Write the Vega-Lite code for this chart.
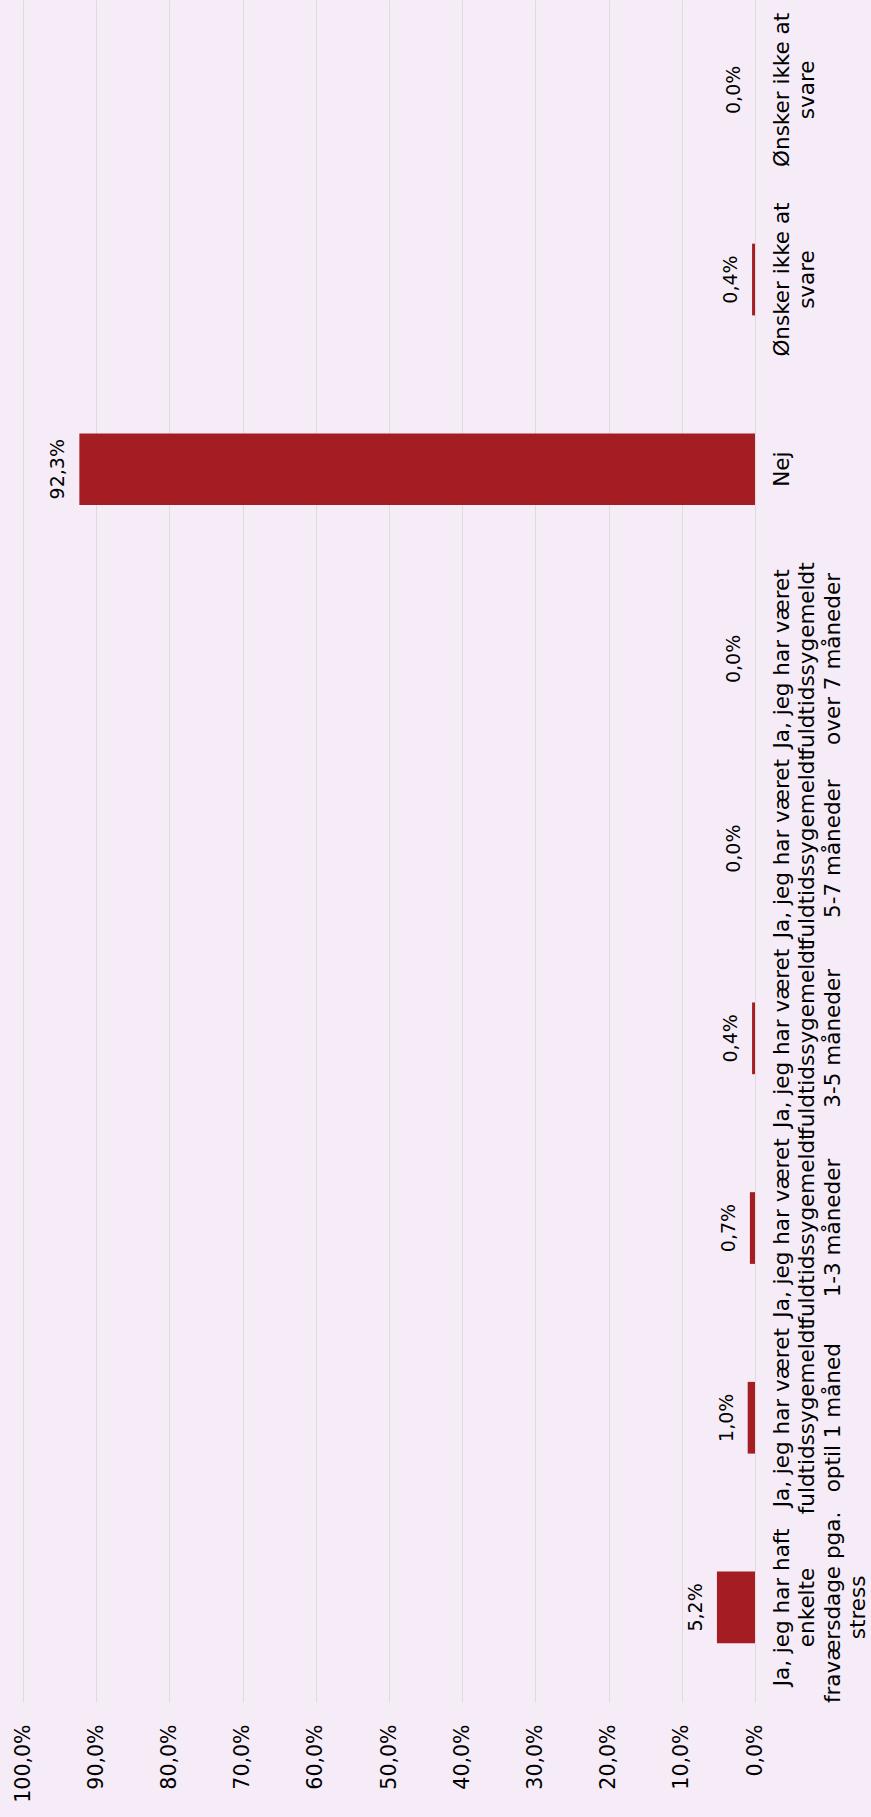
{
  "$schema": "https://vega.github.io/schema/vega-lite/v6.json",
  "width": 732,
  "height": 1702,
  "autosize": {"type": "none"},
  "padding": {"left": 23, "top": 0, "right": 116, "bottom": 115},
  "background": "#F5ECF7",
  "config": {
    "view": {"stroke": null},
    "font": "DejaVu Sans",
    "locale": {"number": {"decimal": ",", "thousands": ".", "grouping": [3], "currency": ["", " kr."]}}
  },
  "data": {
    "values": [
      {"svar": "Ønsker ikke at\nsvare", "andel": 0.0},
      {"svar": "Ønsker ikke at\nsvare ", "andel": 0.004},
      {"svar": "Nej", "andel": 0.923},
      {"svar": "Ja, jeg har været\nfuldtidssygemeldt\nover 7 måneder", "andel": 0.0},
      {"svar": "Ja, jeg har været\nfuldtidssygemeldt\n5-7 måneder", "andel": 0.0},
      {"svar": "Ja, jeg har været\nfuldtidssygemeldt\n3-5 måneder", "andel": 0.004},
      {"svar": "Ja, jeg har været\nfuldtidssygemeldt\n1-3 måneder", "andel": 0.007},
      {"svar": "Ja, jeg har været\nfuldtidssygemeldt\noptil 1 måned", "andel": 0.010},
      {"svar": "Ja, jeg har haft\nenkelte\nfraværsdage pga.\nstress", "andel": 0.052}
    ]
  },
  "encoding": {
    "y": {
      "field": "svar",
      "type": "nominal",
      "sort": null,
      "scale": {"paddingInner": 0.622, "paddingOuter": 0.297, "align": 0.479},
      "axis": {
        "orient": "right",
        "title": null,
        "domain": false,
        "ticks": false,
        "grid": false,
        "labelAngle": -90,
        "labelAlign": "center",
        "labelBaseline": "top",
        "labelPadding": 16,
        "labelFontSize": 21.5,
        "labelLineHeight": 25.5,
        "labelColor": "#000000",
        "labelLimit": 0,
        "labelExpr": "split(datum.value, '\\n')"
      }
    },
    "x": {
      "field": "andel",
      "type": "quantitative",
      "scale": {"domain": [0, 1], "reverse": true, "nice": false},
      "axis": {
        "orient": "bottom",
        "title": null,
        "format": ".1%",
        "values": [0, 0.1, 0.2, 0.3, 0.4, 0.5, 0.6, 0.7, 0.8, 0.9, 1],
        "domain": false,
        "ticks": false,
        "grid": true,
        "gridColor": "#DCDCDC",
        "gridWidth": 1,
        "labelAngle": -90,
        "labelAlign": "right",
        "labelBaseline": "middle",
        "labelPadding": 22,
        "labelFontSize": 20.5,
        "labelColor": "#000000"
      }
    }
  },
  "layer": [
    {"mark": {"type": "bar", "color": "#A41D22"}},
    {
      "mark": {"type": "text", "angle": -90, "align": "center", "baseline": "alphabetic", "dy": -15, "fontSize": 19, "color": "#000000"},
      "encoding": {"text": {"field": "andel", "type": "quantitative", "format": ".1%"}}
    }
  ]
}
